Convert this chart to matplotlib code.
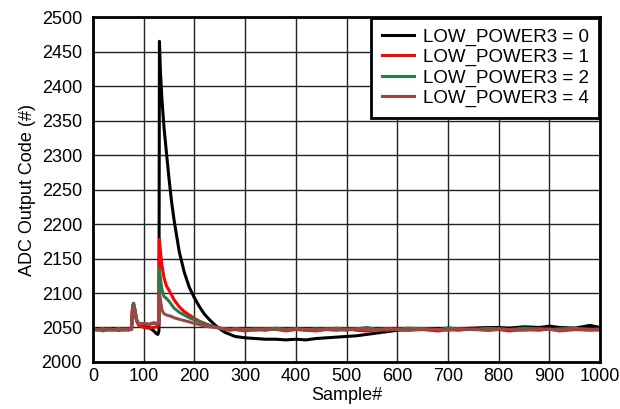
import matplotlib.pyplot as plt

plt.rcParams['font.family'] = ['Liberation Sans', 'DejaVu Sans']

samples = [0, 10, 20, 30, 40, 50, 60, 70, 76, 78, 80, 83, 86, 90, 100, 110, 120, 125, 128, 130,
           131, 133, 136, 140, 145, 150, 155, 160, 170, 180, 190, 200, 210, 220, 230, 240, 250,
           260, 270, 280, 300, 320, 340, 360, 380, 400, 420, 440, 460, 480, 500, 520, 540, 560,
           580, 600, 620, 650, 680, 700, 720, 750, 780, 800, 820, 850, 880, 900, 920, 950, 980, 1000]

lp0 = [2047, 2048, 2046, 2047, 2048, 2046, 2047, 2048, 2048, 2080, 2085, 2072, 2060, 2055, 2052, 2050, 2045, 2041, 2040, 2045,
       2465, 2420, 2380, 2340, 2302, 2265, 2232, 2205, 2160, 2130, 2108, 2093, 2080, 2069, 2061, 2054, 2048,
       2043, 2040, 2037, 2035, 2034, 2033, 2033, 2032, 2033, 2032, 2034, 2035, 2036, 2037, 2038, 2040, 2042,
       2044, 2046, 2047, 2048, 2048, 2049, 2048, 2049, 2050, 2050, 2049, 2051, 2050, 2052, 2050, 2049, 2053, 2050]

lp1 = [2048, 2046, 2048, 2047, 2046, 2048, 2047, 2046, 2048, 2080, 2083, 2075, 2060, 2053, 2050, 2049, 2050, 2051, 2052, 2055,
       2178, 2160, 2140, 2122, 2110, 2104, 2097, 2090, 2080, 2073, 2068, 2063, 2059, 2056, 2053, 2051, 2049,
       2047, 2046, 2047, 2045, 2047, 2046, 2048, 2045, 2047, 2046, 2045, 2047, 2046, 2048, 2046, 2045, 2047,
       2046, 2048, 2046, 2047, 2045, 2047, 2046, 2048, 2046, 2047, 2045, 2047, 2046, 2048, 2045, 2047, 2046, 2047]

lp2 = [2046, 2047, 2045, 2048, 2047, 2046, 2048, 2047, 2047, 2081, 2085, 2075, 2062, 2056, 2055, 2054, 2056, 2055, 2056, 2057,
       2135, 2120, 2105, 2095, 2092, 2088, 2083, 2078, 2072, 2068, 2064, 2061, 2058, 2055, 2053, 2051, 2049,
       2048, 2047, 2048, 2046, 2048, 2047, 2049, 2047, 2048, 2046, 2048, 2047, 2049, 2047, 2048, 2050, 2047,
       2048, 2047, 2049, 2048, 2047, 2049, 2048, 2047, 2049, 2048, 2047, 2049, 2048, 2047, 2048, 2049, 2047, 2048]

lp4 = [2048, 2047, 2048, 2046, 2047, 2048, 2046, 2048, 2047, 2078, 2080, 2072, 2060, 2055, 2056, 2055, 2057, 2056, 2057, 2058,
       2100, 2090, 2075, 2070, 2068, 2067, 2066, 2064, 2062, 2060, 2058, 2056, 2054, 2052, 2051, 2050, 2049,
       2048, 2047, 2048, 2047, 2046, 2048, 2047, 2046, 2048, 2047, 2046, 2048, 2047, 2046, 2048, 2047, 2046,
       2048, 2047, 2046, 2048, 2047, 2046, 2048, 2047, 2046, 2048, 2047, 2046, 2048, 2047, 2046, 2048, 2047, 2046]

labels = ['LOW_POWER3 = 0', 'LOW_POWER3 = 1', 'LOW_POWER3 = 2', 'LOW_POWER3 = 4']
colors = ['#000000', '#ff0000', '#2a7a4b', '#a04545']

fig = plt.figure(figsize=(6.2, 4.09), dpi=100)
ax = fig.add_axes([0.150, 0.115, 0.818, 0.843])

for ys, lab, c in zip([lp0, lp1, lp2, lp4], labels, colors):
    ax.plot(samples, ys, color=c, lw=2.2, label=lab)

ax.set_xlim(0, 1000)
ax.set_ylim(2000, 2500)
ax.set_xticks(range(0, 1001, 100))
ax.set_yticks(range(2000, 2501, 50))
ax.tick_params(labelsize=13, length=0)
ax.tick_params(axis='y', pad=8)
ax.tick_params(axis='x', pad=4)
ax.grid(True, color='#222222', lw=1.0)
for s in ax.spines.values():
    s.set_linewidth(2)
ax.set_xlabel('Sample#', fontsize=13, labelpad=2)
ax.set_ylabel('ADC Output Code (#)', fontsize=13, labelpad=4)

leg = ax.legend(loc='upper right', fontsize=13.5, fancybox=False, framealpha=1,
                edgecolor='black', borderaxespad=0.05, handlelength=1.7,
                labelspacing=0.17, borderpad=0.55, handletextpad=0.5)
leg.get_frame().set_linewidth(2)

fig.savefig('out.png', dpi=100)
